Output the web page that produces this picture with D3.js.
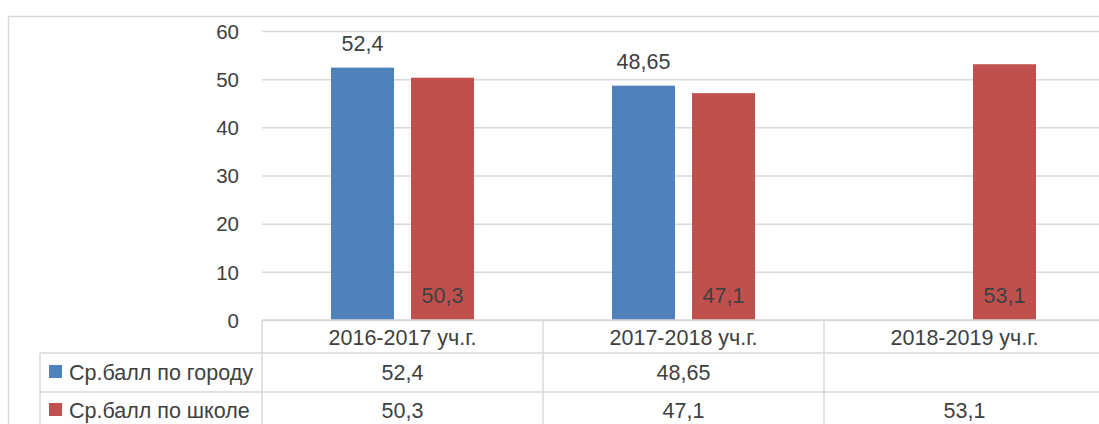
<!DOCTYPE html>
<html><head><meta charset="utf-8">
<script src="https://cdn.jsdelivr.net/npm/d3@7"></script>
<style>html,body{margin:0;padding:0;background:#fff;overflow:hidden}</style>
</head><body>
<svg id="c" width="1099" height="424"></svg>
<script>
const categories = ["2016-2017 уч.г.", "2017-2018 уч.г.", "2018-2019 уч.г."];
const seriesNames = ["Ср.балл по городу", "Ср.балл по школе"];
const cityValues = [52.4, 48.65, null];
const schoolValues = [50.3, 47.1, 53.1];
const yTicks = [0, 10, 20, 30, 40, 50, 60];
const colors = ["#4F81BD", "#C0504D"];

const seriesValues = [cityValues, schoolValues];
const fmt = v => (v == null ? "" : String(v).replace(".", ","));
const font = "'Liberation Sans', Arial, sans-serif";
const fs = 21.5;
const textCol = "#404040";
const gridCol = "#D9D9D9";

const svg = d3.select("#c");
// outer chart border
svg.append("rect").attr("x", 8.5).attr("y", 16.5).attr("width", 1200).attr("height", 500)
  .attr("fill", "none").attr("stroke", gridCol).attr("stroke-width", 1.5);

const plotLeft = 262, plotRight = 1105, plotTop = 31, plotBottom = 320;
const x0 = d3.scaleBand().domain(categories).range([plotLeft, plotRight]).paddingInner(0).paddingOuter(0);
const x1 = d3.scaleBand().domain(seriesNames).range([0, x0.bandwidth()]).paddingInner(0.2125).paddingOuter(0.8625);
const y = d3.scaleLinear().domain([0, 60]).range([plotBottom, plotTop]);

// gridlines
const yAxis = d3.axisLeft(y).tickValues(yTicks).tickSize(-(plotRight - plotLeft)).tickPadding(23).tickFormat(d => d);
const gAxis = svg.append("g").attr("transform", `translate(${plotLeft},0)`).call(yAxis);
gAxis.select(".domain").remove();
gAxis.selectAll(".tick line").attr("stroke", gridCol).attr("stroke-width", 1.5);
gAxis.selectAll(".tick text").attr("fill", textCol).attr("font-family", font).attr("font-size", 20.5).attr("dy", "0.35em");

// bars
const rows = categories.map((c, i) => ({ cat: c, vals: seriesNames.map((s, j) => ({ s, j, v: seriesValues[j][i] })) }));
const gCat = svg.append("g").selectAll("g").data(rows).join("g")
  .attr("transform", d => `translate(${x0(d.cat)},0)`);
gCat.selectAll("rect").data(d => d.vals.filter(e => e.v != null)).join("rect")
  .attr("x", e => x1(e.s)).attr("width", x1.bandwidth())
  .attr("y", e => y(e.v)).attr("height", e => y(0) - y(e.v))
  .attr("fill", e => colors[e.j]);
// labels
gCat.selectAll("text.lab").data(d => d.vals.filter(e => e.v != null)).join("text")
  .attr("class", "lab")
  .attr("x", e => x1(e.s) + x1.bandwidth() / 2)
  .attr("y", e => e.j === 0 ? y(e.v) - 17 : y(0) - 17)
  .attr("text-anchor", "middle").attr("font-family", font).attr("font-size", fs)
  .attr("fill", textCol).text(e => fmt(e.v));

// data table
const rowTops = [320, 353, 392, 431];
const tableLeft = 40;
const lines = svg.append("g").attr("stroke", gridCol).attr("stroke-width", 1.5);
lines.append("line").attr("x1", plotLeft).attr("x2", 1200).attr("y1", rowTops[0]).attr("y2", rowTops[0]);
lines.append("line").attr("x1", tableLeft).attr("x2", 1200).attr("y1", rowTops[1]).attr("y2", rowTops[1]);
lines.append("line").attr("x1", tableLeft).attr("x2", 1200).attr("y1", rowTops[2]).attr("y2", rowTops[2]);
lines.append("line").attr("x1", tableLeft).attr("x2", tableLeft).attr("y1", rowTops[1]).attr("y2", 500);
categories.concat(["__end"]).forEach((c, i) => {
  const xv = c === "__end" ? plotRight : x0(c);
  lines.append("line").attr("x1", xv).attr("x2", xv).attr("y1", rowTops[0]).attr("y2", 500);
});
// category labels
svg.append("g").selectAll("text").data(categories).join("text")
  .attr("x", d => x0(d) + x0.bandwidth() / 2).attr("y", 345)
  .attr("text-anchor", "middle").attr("font-family", font).attr("font-size", fs).attr("fill", textCol)
  .text(d => d);
// value rows
const baselines = [380, 418];
seriesNames.forEach((s, j) => {
  const g = svg.append("g");
  g.append("rect").attr("x", 49).attr("y", baselines[j] - 15).attr("width", 13).attr("height", 13).attr("fill", colors[j]);
  g.append("text").attr("x", 69).attr("y", baselines[j]).attr("font-family", font).attr("font-size", fs)
    .attr("fill", textCol).text(s);
  g.selectAll("text.v").data(categories).join("text").attr("class", "v")
    .attr("x", d => x0(d) + x0.bandwidth() / 2).attr("y", baselines[j])
    .attr("text-anchor", "middle").attr("font-family", font).attr("font-size", fs).attr("fill", textCol)
    .text((d, i) => fmt(seriesValues[j][i]));
});
</script>
</body></html>
